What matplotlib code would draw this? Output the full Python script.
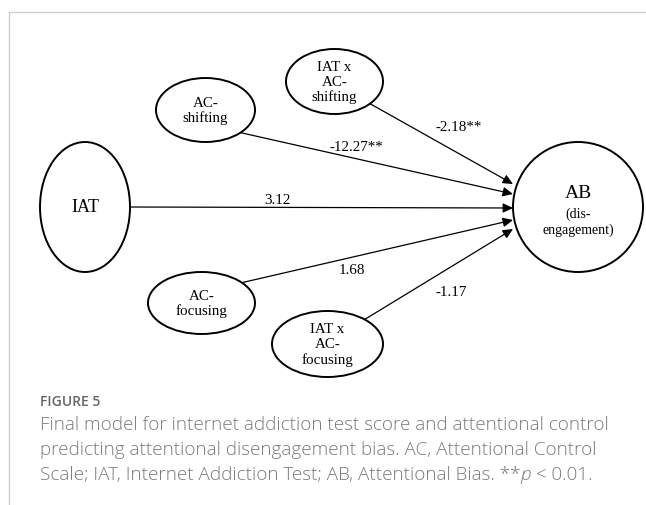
import matplotlib.pyplot as plt
from matplotlib.patches import Ellipse
import numpy as np

# --- path model: predictors -> AB (disengagement) ---
predictors = ["IAT x\nAC-\nshifting", "AC-\nshifting", "IAT", "AC-\nfocusing", "IAT x\nAC-\nfocusing"]
coefficients = [-2.18, -12.27, 3.12, 1.68, -1.17]
significant = [True, True, False, False, False]
outcome_label = "AB"
outcome_sub = "(dis-\nengagement)"

caption_title = "FIGURE 5"
caption_lines = [
    "Final model for internet addiction test score and attentional control",
    "predicting attentional disengagement bias. AC, Attentional Control",
]
caption_last = ["Scale; IAT, Internet Addiction Test; AB, Attentional Bias. **", "p", " < 0.01."]

# --- layout (pixel coordinates, y downwards) ---
nodes = [  # cx, cy, width, height, fontsize, arrow start angle (deg)
    (334.5, 82.5, 97, 65, 10.8, 43),
    (205.5, 111, 99, 64, 10.8, 45),
    (85, 208, 90, 130, 13, 0),
    (201.5, 304, 107, 62, 10.8, -41),
    (327.5, 345, 111, 66, 10.8, -48),
]
end_y = [185, 195, 209, 221, 230]
coef_pos = [(459, 127), (356, 147), (277, 200), (352, 270), (451, 292)]
ab_center, ab_r = (578, 208), 65

serif = "Liberation Serif"
sans = "Open Sans"

fig = plt.figure(figsize=(6.46, 5.06), dpi=100)
ax = fig.add_axes([0, 0, 1, 1])
ax.set_xlim(0, 646)
ax.set_ylim(506, 0)
ax.axis("off")

# frame lines
ax.plot([9, 646], [13, 13], color="#cfcfcf", lw=1.0)
ax.plot([9, 9], [13, 506], color="#cfcfcf", lw=1.0)

# outcome circle
ax.add_patch(Ellipse(ab_center, 2 * ab_r, 2 * ab_r, fill=False, lw=1.4, ec="black"))
ax.text(ab_center[0], 193, outcome_label, ha="center", va="center", fontsize=14, family=serif)
ax.text(ab_center[0], 222, outcome_sub, ha="center", va="center", fontsize=10,
        family=serif, linespacing=1.2)

for (cx, cy, w, h, fs, ang), name, coef, sig, ey, (lx, ly) in zip(
        nodes, predictors, coefficients, significant, end_y, coef_pos):
    ax.add_patch(Ellipse((cx, cy), w, h, fill=False, lw=1.4, ec="black"))
    ax.text(cx, cy, name, ha="center", va="center", fontsize=fs, family=serif, linespacing=1.2)
    t = np.deg2rad(ang)
    start = (cx + w / 2 * np.cos(t), cy + h / 2 * np.sin(t))
    end = (ab_center[0] - ab_r, ey)
    ax.annotate("", xy=end, xytext=start,
                arrowprops=dict(arrowstyle="-|>,head_length=0.6,head_width=0.28",
                                color="black", lw=0.9, shrinkA=0, shrinkB=0,
                                mutation_scale=10))
    label = f"{coef:.2f}" + ("**" if sig else "")
    ax.text(lx, ly, label, ha="center", va="center", fontsize=10.8, family=serif)

# caption
ax.text(40, 406, caption_title, ha="left", va="baseline", fontsize=10, family=sans,
        color="#666666", fontweight="semibold")
for i, line in enumerate(caption_lines):
    ax.text(40, 430 + 25 * i, line, ha="left", va="baseline", fontsize=13.6, family=sans,
            color="#7a7a7a", fontweight="light")

fig.canvas.draw()
renderer = fig.canvas.get_renderer()
x = 40
inv = ax.transData.inverted()
for j, part in enumerate(caption_last):
    txt = ax.text(x, 480, part, ha="left", va="baseline", fontsize=13.6, family=sans,
                  color="#7a7a7a", fontweight="light", style="italic" if j == 1 else "normal")
    bb = txt.get_window_extent(renderer)
    x = inv.transform((bb.x1, bb.y0))[0]

fig.savefig("out.png", dpi=100)
